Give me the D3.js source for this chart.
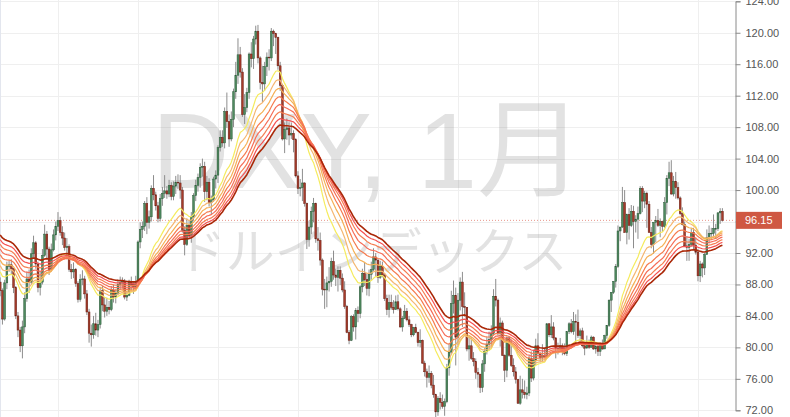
<!DOCTYPE html>
<html><head><meta charset="utf-8">
<script src="https://cdn.jsdelivr.net/npm/d3@7"></script>
<style>html,body{margin:0;padding:0;background:#fff;overflow:hidden}</style>
</head><body><svg id="c" width="790" height="417"></svg>
<script>
// ---- DATA (DXY monthly, Nov 1991 .. Dec 2018) ----
const firstMonth = {year: 1991, month: 11};
const firstOpen = 88.3;
const closes = [
  87.2, 83.6,
  88.2, 90.3, 90.5, 90.0, 87.6, 84.0, 82.2, 80.2, 82.6, 86.2, 88.7, 88.3,
  91.9, 93.3, 90.6, 87.6, 88.3, 91.7, 94.4, 92.5, 89.9, 92.4, 94.3, 95.4,
  96.1, 94.6, 93.9, 92.7, 92.8, 89.9, 89.6, 89.9, 88.1, 86.1, 88.6, 88.7,
  86.8, 84.5, 81.8, 81.6, 83.0, 82.2, 82.9, 87.2, 85.4, 84.6, 85.1, 84.8,
  87.3, 86.4, 86.9, 88.0, 88.3, 88.4, 86.4, 86.6, 88.3, 88.0, 87.7, 88.4,
  93.4, 95.0, 95.4, 98.3, 95.9, 96.6, 100.2, 99.4, 98.0, 96.4, 98.9, 99.6,
  99.9, 99.5, 100.6, 99.2, 100.5, 101.0, 100.9, 100.0, 94.9, 93.1, 95.5, 94.2,
  96.6, 99.3, 100.6, 101.6, 102.9, 103.0, 99.8, 101.0, 98.4, 98.8, 101.4, 101.9,
  105.4, 106.7, 106.0, 110.0, 108.7, 106.5, 109.0, 112.5, 114.6, 117.2, 115.0, 109.6,
  110.5, 112.4, 117.3, 116.7, 119.2, 120.2, 116.8, 113.7, 113.5, 115.7, 116.9, 116.8,
  120.2, 119.9, 119.4, 115.8, 113.3, 106.5, 107.7, 107.9, 107.0, 107.2, 106.4, 101.8,
  100.2, 100.3, 100.9, 98.3, 93.7, 95.3, 97.3, 98.3, 93.8, 93.6, 91.1, 87.4,
  87.3, 88.2, 88.4, 90.9, 89.2, 88.9, 89.8, 88.8, 87.3, 85.2, 81.9, 80.9,
  83.9, 82.6, 84.7, 84.3, 87.7, 89.4, 88.6, 87.5, 89.3, 89.9, 91.5, 91.1,
  88.9, 90.3, 89.2, 86.2, 84.8, 85.7, 85.1, 84.8, 85.8, 84.9, 82.6, 83.7,
  84.6, 83.5, 82.9, 81.6, 82.5, 81.9, 80.6, 80.9, 78.0, 76.9, 76.2, 76.7,
  75.2, 74.0, 71.8, 73.5, 73.0, 72.5, 73.1, 77.4, 79.4, 85.6, 86.6, 81.3,
  86.0, 88.3, 85.2, 85.1, 79.8, 80.2, 78.6, 78.2, 76.8, 76.6, 74.9, 77.9,
  79.5, 80.4, 81.0, 81.8, 86.5, 86.0, 81.8, 83.1, 79.0, 77.1, 81.2, 79.0,
  77.7, 76.9, 75.9, 72.9, 74.6, 74.3, 74.0, 74.2, 78.6, 76.1, 78.4, 80.2,
  79.2, 78.7, 79.0, 78.8, 83.0, 81.6, 82.6, 81.2, 79.9, 79.9, 80.2, 79.8,
  79.2, 82.0, 83.0, 82.0, 83.3, 83.2, 81.5, 82.1, 80.2, 79.9, 80.7, 80.0,
  81.3, 79.8, 80.1, 79.5, 80.4, 79.8, 81.5, 82.8, 86.0, 87.0, 88.4, 90.3,
  94.8, 95.3, 98.4, 94.6, 96.9, 95.5, 97.3, 96.0, 96.3, 97.0, 100.2, 98.6,
  99.6, 98.2, 94.6, 93.1, 95.9, 96.1, 95.5, 96.0, 95.4, 98.4, 101.5, 102.2,
  99.5, 101.1, 100.3, 99.0, 97.0, 95.6, 92.9, 92.7, 93.1, 94.6, 93.0, 92.1,
  89.1, 90.6, 90.1, 91.8, 94.0, 94.5, 94.5, 95.1, 95.1, 97.1, 97.3, 96.15
];
const highs = [
  88.9, 87.5,
  88.6, 90.9, 91.0, 91.2, 90.1, 87.8, 84.5, 82.6, 83.4, 87.0, 89.6, 89.9,
  92.6, 94.2, 93.5, 90.9, 89.6, 92.5, 95.6, 94.8, 92.8, 93.2, 95.0, 96.0,
  97.2, 96.6, 95.4, 94.6, 93.9, 93.1, 90.6, 90.8, 90.1, 88.4, 89.3, 89.8,
  89.1, 87.3, 84.9, 82.9, 84.0, 84.4, 83.5, 87.6, 87.8, 86.4, 86.3, 85.9,
  87.8, 88.0, 87.4, 88.6, 89.0, 88.9, 88.7, 87.1, 88.6, 89.0, 88.4, 89.1,
  93.6, 95.9, 96.0, 98.6, 99.1, 97.4, 100.6, 101.9, 99.8, 98.5, 99.5, 100.4,
  101.9, 100.5, 101.3, 101.0, 101.1, 101.8, 102.0, 101.9, 100.4, 95.4, 96.4, 96.2,
  97.2, 99.6, 101.3, 102.1, 103.4, 104.0, 103.6, 101.8, 101.5, 99.3, 101.7, 102.5,
  105.7, 107.6, 107.6, 110.5, 112.4, 109.6, 110.0, 112.9, 116.3, 119.3, 118.2, 115.5,
  112.2, 113.0, 117.5, 118.8, 119.6, 120.9, 121.0, 117.0, 115.8, 116.3, 117.5, 117.9,
  120.6, 120.4, 120.0, 119.5, 116.3, 113.5, 108.6, 109.1, 108.6, 108.6, 107.6, 106.6,
  102.4, 101.4, 102.7, 101.0, 98.4, 96.1, 97.9, 99.0, 98.4, 95.3, 94.6, 91.3,
  88.7, 89.0, 90.2, 91.4, 92.3, 90.0, 90.3, 90.3, 89.4, 88.4, 85.4, 82.2,
  84.1, 84.2, 85.0, 85.2, 87.9, 90.0, 90.8, 89.4, 89.9, 90.9, 92.6, 92.0,
  91.2, 91.0, 90.9, 89.4, 86.7, 86.7, 86.7, 86.0, 86.6, 86.7, 85.1, 84.0,
  85.4, 85.0, 84.0, 83.0, 82.6, 83.0, 82.0, 82.3, 81.0, 78.3, 77.3, 77.7,
  77.0, 76.5, 74.1, 73.8, 74.3, 74.0, 73.5, 77.9, 80.4, 87.2, 88.5, 87.6,
  86.9, 88.9, 89.6, 87.0, 85.1, 81.5, 81.3, 79.4, 78.6, 77.4, 76.6, 78.4,
  79.9, 81.3, 82.0, 82.8, 87.4, 88.7, 86.2, 83.8, 83.4, 79.1, 81.4, 81.4,
  81.0, 78.6, 77.5, 76.0, 76.4, 76.0, 75.8, 75.0, 79.0, 79.5, 79.7, 81.1,
  81.8, 79.4, 80.4, 80.0, 83.1, 83.1, 84.1, 83.2, 81.3, 80.6, 81.2, 80.5,
  80.5, 82.0, 83.2, 83.6, 84.5, 84.2, 84.8, 82.4, 82.5, 80.8, 81.5, 81.0,
  81.5, 81.4, 80.5, 80.5, 80.6, 81.0, 81.6, 82.8, 86.1, 87.0, 88.4, 90.6,
  95.5, 95.3, 100.4, 100.0, 97.0, 97.7, 98.1, 98.0, 96.8, 97.9, 100.5, 100.5,
  99.9, 99.8, 98.6, 95.3, 95.9, 96.7, 97.6, 96.4, 96.1, 99.1, 101.9, 103.6,
  103.8, 101.8, 102.3, 101.0, 99.2, 97.8, 96.0, 94.1, 93.8, 95.1, 95.2, 94.0,
  92.5, 91.0, 90.8, 92.0, 95.0, 95.5, 95.2, 96.9, 95.7, 97.2, 97.7, 97.7
];
const lows = [
  86.5, 82.9,
  83.4, 87.4, 89.6, 89.2, 86.9, 83.6, 81.3, 79.4, 78.6, 81.8, 85.8, 86.9,
  88.0, 91.4, 90.0, 87.0, 86.6, 88.0, 91.5, 91.3, 89.2, 89.6, 92.2, 93.6,
  94.8, 94.2, 93.0, 92.3, 91.2, 89.6, 88.7, 88.8, 87.7, 85.7, 85.8, 87.9,
  86.2, 84.1, 80.6, 80.1, 81.1, 81.5, 81.3, 82.4, 84.6, 83.8, 84.0, 84.2,
  84.6, 85.7, 85.6, 86.6, 87.4, 87.5, 86.1, 85.9, 86.5, 87.2, 86.8, 87.3,
  88.2, 92.6, 93.9, 94.8, 94.4, 95.1, 96.0, 98.7, 97.4, 95.9, 96.0, 98.0,
  99.0, 98.9, 99.1, 98.7, 98.7, 99.5, 100.1, 98.9, 94.6, 91.7, 92.9, 93.8,
  93.3, 96.1, 98.6, 99.8, 100.3, 101.7, 98.5, 98.7, 97.9, 96.9, 98.5, 100.2,
  100.9, 104.9, 105.5, 105.3, 107.9, 105.5, 106.2, 108.0, 111.6, 113.5, 114.3, 109.3,
  108.4, 109.9, 111.6, 115.6, 115.4, 118.5, 116.1, 112.8, 111.2, 112.6, 114.5, 115.2,
  116.4, 118.3, 117.3, 115.3, 112.6, 106.3, 104.7, 106.4, 105.7, 106.5, 104.8, 101.6,
  99.5, 99.2, 98.6, 97.9, 92.5, 92.8, 94.4, 95.9, 93.3, 92.3, 90.4, 86.6,
  84.9, 85.1, 87.1, 87.7, 88.6, 87.8, 87.1, 87.9, 87.0, 84.9, 81.8, 80.4,
  80.8, 82.0, 81.0, 83.2, 83.7, 87.0, 87.8, 86.6, 86.5, 88.6, 89.7, 89.0,
  88.2, 88.7, 88.9, 85.9, 84.1, 83.8, 84.8, 84.3, 84.8, 84.7, 82.5, 82.0,
  83.6, 83.3, 82.6, 81.3, 81.4, 81.8, 80.1, 80.0, 77.9, 76.3, 74.9, 75.5,
  74.8, 73.6, 70.7, 71.3, 72.1, 72.2, 71.3, 72.9, 76.4, 79.2, 84.3, 77.7,
  80.3, 84.7, 82.6, 83.9, 79.5, 78.3, 78.4, 77.6, 76.0, 74.9, 74.2, 74.3,
  76.9, 79.1, 79.6, 80.0, 81.5, 85.2, 81.5, 80.1, 78.9, 75.6, 76.2, 78.8,
  77.5, 76.3, 75.4, 72.8, 72.7, 73.5, 73.5, 73.4, 73.8, 75.6, 75.8, 77.7,
  78.9, 78.1, 78.1, 78.6, 78.6, 81.3, 81.2, 80.9, 78.6, 79.1, 79.7, 79.0,
  79.0, 78.9, 81.7, 81.8, 81.6, 80.5, 81.2, 80.6, 80.0, 79.0, 79.9, 79.8,
  80.0, 79.7, 79.2, 78.9, 78.9, 79.7, 79.8, 81.1, 82.6, 84.5, 86.8, 87.6,
  90.1, 93.5, 95.2, 94.6, 93.1, 93.7, 95.3, 92.6, 94.6, 93.8, 96.9, 97.2,
  97.7, 95.2, 94.6, 92.6, 91.9, 93.4, 95.3, 94.0, 94.7, 95.2, 96.9, 100.5,
  99.4, 99.2, 98.9, 98.8, 96.8, 95.5, 92.8, 91.0, 91.0, 92.8, 92.5, 91.8,
  88.4, 88.3, 88.9, 89.2, 91.8, 93.2, 93.7, 94.1, 93.8, 94.8, 95.7, 96.0
];
const priceTicks = [72, 76, 80, 84, 88, 92, 96, 100, 104, 108, 112, 116, 120, 124];
const gridYears = [1994, 1997, 2000, 2003, 2006, 2009, 2012, 2015, 2018];
const emaLengths = [20, 25, 30, 35, 40, 45, 50, 55];
const emaSeeds = [89.6, 90.4, 91.1, 91.8, 92.5, 93.1, 93.7, 94.3];
const emaColors = ['#f5eb5d', '#f5b771', '#f5b056', '#f57b4e', '#f56d58', '#f57d51', '#f55151', '#aa2707'];
const lastPrice = 96.15;
const watermarkTitle = 'DXY, 1月';
const watermarkSub = 'ドルインデックス';

// ---- BUILD ----
const bars = closes.map((c, i) => {
  const o = i === 0 ? firstOpen : closes[i - 1];
  return {i, o, c, h: Math.max(highs[i], o, c), l: Math.min(lows[i], o, c)};
});

const svg = d3.select('#c');
const W = 790, H = 417, axisX = 735;
svg.append('rect').attr('width', W).attr('height', H).attr('fill', '#ffffff');

const x = d3.scaleLinear().domain([0, closes.length - 1]).range([0.2, 722.4]);
const y = d3.scaleLinear().domain([72, 124]).range([410.3, 1.3]);

const monthIndex = yr => (yr - firstMonth.year) * 12 + (1 - firstMonth.month);

// grid
const grid = svg.append('g');
grid.selectAll('line.h').data(priceTicks).join('line')
  .attr('x1', 0).attr('x2', axisX)
  .attr('y1', d => Math.round(y(d)) + 0.5).attr('y2', d => Math.round(y(d)) + 0.5)
  .attr('stroke', '#efefef').attr('stroke-width', 1);
grid.selectAll('line.v').data(gridYears).join('line')
  .attr('x1', d => Math.round(x(monthIndex(d))) + 0.5).attr('x2', d => Math.round(x(monthIndex(d))) + 0.5)
  .attr('y1', 0).attr('y2', H)
  .attr('stroke', '#efefef').attr('stroke-width', 1);
svg.append('line').attr('x1', 0.5).attr('x2', 0.5).attr('y1', 0).attr('y2', H)
  .attr('stroke', '#e3e6ee').attr('stroke-width', 1);

// watermark
svg.append('text').text(watermarkTitle)
  .attr('x', 368).attr('y', 188).attr('text-anchor', 'middle')
  .attr('font-family', '"Liberation Sans", Arial, "Noto Sans CJK JP", sans-serif')
  .attr('font-size', 107).attr('fill', 'rgba(120,120,120,0.21)');
svg.append('text').text(watermarkSub)
  .attr('x', 372).attr('y', 269).attr('text-anchor', 'middle')
  .attr('font-family', '"Noto Sans CJK JP", sans-serif')
  .attr('font-size', 49).attr('fill', 'rgba(120,120,120,0.21)');

// last price dotted line
svg.append('line').attr('x1', 0).attr('x2', axisX)
  .attr('y1', y(lastPrice)).attr('y2', y(lastPrice))
  .attr('stroke', '#e8958a').attr('stroke-width', 1).attr('stroke-dasharray', '1,2');

// candles
const cg = svg.append('g');
cg.selectAll('line.wick').data(bars).join('line')
  .attr('x1', d => x(d.i)).attr('x2', d => x(d.i))
  .attr('y1', d => y(d.h)).attr('y2', d => y(d.l))
  .attr('stroke', '#8d8d8d').attr('stroke-width', 1);
const bw = 1.8;
cg.selectAll('rect.body').data(bars).join('rect')
  .attr('x', d => x(d.i) - bw / 2).attr('width', bw)
  .attr('y', d => y(Math.max(d.o, d.c)))
  .attr('height', d => Math.max(0.6, Math.abs(y(d.o) - y(d.c))))
  .attr('fill', d => d.c >= d.o ? '#4f8a5f' : '#a63b2a')
  .attr('stroke', d => d.c >= d.o ? '#2c5a3a' : '#6a1f14')
  .attr('stroke-width', 0.5);

// EMA ribbon
const line = d3.line().x((d, i) => x(i)).y(d => y(d));
emaLengths.forEach((len, k) => {
  const a = 2 / (len + 1);
  const vals = [];
  closes.forEach((c, i) => {
    vals.push(i === 0 ? emaSeeds[k] : a * c + (1 - a) * vals[i - 1]);
  });
  svg.append('path').datum(vals).attr('d', line)
    .attr('fill', 'none').attr('stroke', emaColors[k])
    .attr('stroke-width', k === emaLengths.length - 1 ? 1.6 : 1.2)
    .attr('stroke-linejoin', 'round');
});

// right price axis
svg.append('rect').attr('x', axisX).attr('y', 0).attr('width', W - axisX).attr('height', H).attr('fill', '#fff');
const axis = d3.axisRight(y).tickValues(priceTicks).tickFormat(d3.format('.2f')).tickSize(5).tickPadding(5);
const ag = svg.append('g').attr('transform', `translate(${axisX + 0.5},0)`).call(axis);
ag.select('.domain').attr('stroke', '#8a8a8a');
ag.selectAll('.tick line').attr('stroke', '#8a8a8a');
ag.selectAll('.tick text').attr('fill', '#555')
  .attr('font-family', '"Liberation Sans", Arial, sans-serif').attr('font-size', 11);

// last price label
const ly = y(lastPrice);
svg.append('rect').attr('x', axisX + 1).attr('y', ly - 8.5).attr('width', 46).attr('height', 17)
  .attr('fill', '#cf5843');
svg.append('text').text(d3.format('.2f')(lastPrice))
  .attr('x', 745).attr('y', ly).attr('dy', '0.35em')
  .attr('fill', '#fff').attr('font-family', '"Liberation Sans", Arial, sans-serif').attr('font-size', 11);
</script>
</body></html>
